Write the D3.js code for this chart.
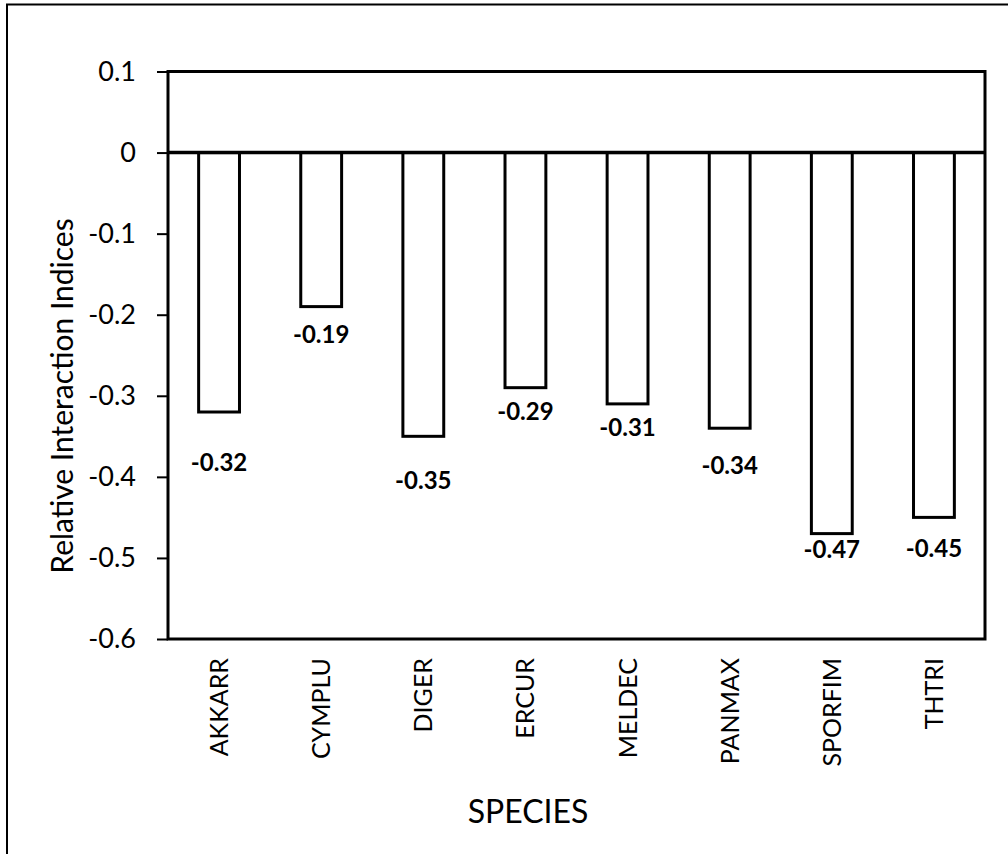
<!DOCTYPE html>
<html>
<head>
<meta charset="utf-8">
<script src="https://cdn.jsdelivr.net/npm/d3@7"></script>
<style>
  html, body { margin: 0; padding: 0; background: #fff; }
  svg { display: block; }
  text { font-family: Lato, "Open Sans", sans-serif; fill: #000; }
</style>
</head>
<body>
<svg id="chart" width="1008" height="854"></svg>
<script>
// Species codes and their relative interaction indices
const species = ["AKKARR", "CYMPLU", "DIGER", "ERCUR", "MELDEC", "PANMAX", "SPORFIM", "THTRI"];
const rii = [-0.32, -0.19, -0.35, -0.29, -0.31, -0.34, -0.47, -0.45];
const yTicks = [0.1, 0, -0.1, -0.2, -0.3, -0.4, -0.5, -0.6];

// vertical distance (px) from each bar end down to its value label's centre
const labelDrop = [50, 28, 44, 24, 23, 37, 16, 31];

const svg = d3.select("#chart");
const W = 1008, H = 854;
const plot = { left: 168, right: 985, top: 71.5, bottom: 639 };

// outer frame (runs past the right and bottom edges)
svg.append("rect")
  .attr("x", 7).attr("y", 4.5)
  .attr("width", W + 10).attr("height", H + 10)
  .attr("fill", "none").attr("stroke", "#000").attr("stroke-width", 2);

const x = d3.scaleBand().domain(species)
  .range([plot.left, plot.right]).paddingInner(0.6).paddingOuter(0.3);
const y = d3.scaleLinear().domain([-0.6, 0.1]).range([plot.bottom, plot.top]);

// bars hanging from the zero line
svg.append("g").selectAll("rect")
  .data(species)
  .join("rect")
  .attr("x", d => x(d))
  .attr("y", y(0))
  .attr("width", x.bandwidth())
  .attr("height", (d, i) => y(rii[i]) - y(0))
  .attr("fill", "#fff").attr("stroke", "#000").attr("stroke-width", 3);

// value labels below each bar
svg.append("g").selectAll("text")
  .data(species)
  .join("text")
  .attr("x", d => x(d) + x.bandwidth() / 2)
  .attr("y", (d, i) => y(rii[i]) + labelDrop[i])
  .attr("dy", "0.36em")
  .attr("text-anchor", "middle")
  .attr("font-weight", "bold")
  .attr("font-size", 24)
  .text((d, i) => rii[i].toFixed(2));

// zero line
svg.append("line")
  .attr("x1", plot.left).attr("x2", plot.right)
  .attr("y1", y(0)).attr("y2", y(0))
  .attr("stroke", "#000").attr("stroke-width", 3.5);

// plot frame
svg.append("rect")
  .attr("x", plot.left).attr("y", plot.top)
  .attr("width", plot.right - plot.left).attr("height", plot.bottom - plot.top)
  .attr("fill", "none").attr("stroke", "#000").attr("stroke-width", 3);

// y axis
const yAxis = d3.axisLeft(y).tickValues(yTicks).tickSize(11).tickPadding(21)
  .tickFormat(d => String(d));
const gy = svg.append("g").attr("transform", `translate(${plot.left},0)`).call(yAxis);
gy.select(".domain").remove();
gy.selectAll(".tick line").attr("stroke", "#000").attr("stroke-width", 2);
gy.selectAll(".tick text").attr("font-size", 27).attr("font-family", "Lato, sans-serif").attr("fill", "#000");

// x category labels, rotated
svg.append("g").selectAll("text")
  .data(species)
  .join("text")
  .attr("transform", d => `translate(${x(d) + x.bandwidth() / 2 + 9},658) rotate(-90)`)
  .attr("text-anchor", "end")
  .attr("font-size", 25)
  .text(d => d);

// axis titles
svg.append("text")
  .attr("transform", "translate(73,396) rotate(-90)")
  .attr("text-anchor", "middle")
  .attr("font-size", 30)
  .text("Relative Interaction Indices");

svg.append("text")
  .attr("x", 528)
  .attr("y", 823)
  .attr("text-anchor", "middle")
  .attr("font-size", 32)
  .text("SPECIES");
</script>
</body>
</html>
